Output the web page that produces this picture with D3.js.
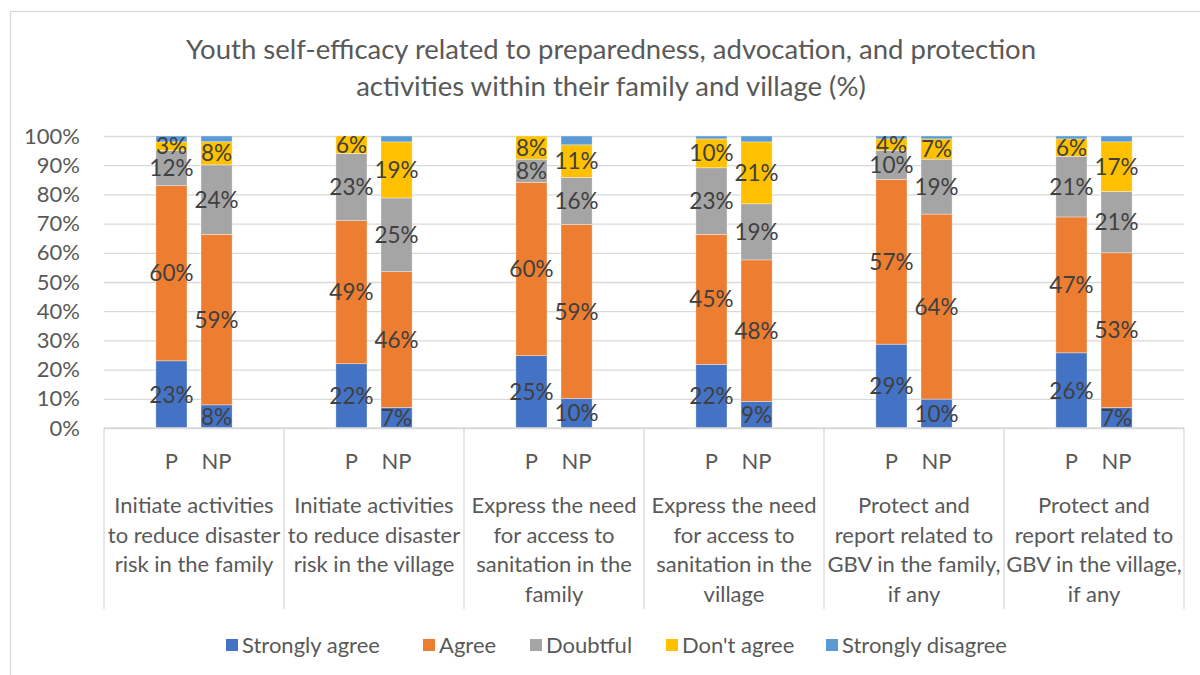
<!DOCTYPE html>
<html>
<head>
<meta charset="utf-8">
<script src="https://cdn.jsdelivr.net/npm/d3@7/dist/d3.min.js"></script>
<style>
  html, body { margin: 0; padding: 0; background: #fff; }
  svg { display: block; font-family: Lato, "Open Sans", sans-serif; }
</style>
</head>
<body>
<svg id="chart" width="1200" height="675"></svg>
<script>
// Activity categories (line breaks mark the wrapped axis label)
const categories = [
  "Initiate activities\nto reduce disaster\nrisk in the family",
  "Initiate activities\nto reduce disaster\nrisk in the village",
  "Express the need\nfor access to\nsanitation in the\nfamily",
  "Express the need\nfor access to\nsanitation in the\nvillage",
  "Protect and\nreport related to\nGBV in the family,\nif any",
  "Protect and\nreport related to\nGBV in the village,\nif any"
];
// Participant / non-participant columns inside every category
const groups = ["P", "NP"];

const seriesNames = ["Strongly agree", "Agree", "Doubtful", "Don't agree", "Strongly disagree"];
const seriesColors = ["#4472C4", "#ED7D31", "#A5A5A5", "#FFC000", "#5B9BD5"];

// Values in %, ordered cat1 P, cat1 NP, cat2 P, cat2 NP, ...
const stronglyAgree    = [23, 8, 22, 7, 25, 10, 22, 9, 29, 10, 26, 7];
const agree            = [60, 59, 49, 46, 60, 59, 45, 48, 57, 64, 47, 53];
const doubtful         = [12, 24, 23, 25, 8, 16, 23, 19, 10, 19, 21, 21];
const dontAgree        = [3, 8, 6, 19, 8, 11, 10, 21, 4, 7, 6, 17];
const stronglyDisagree = [2, 2, 0, 2, 0, 3, 1, 2, 1, 1, 1, 2];

const seriesValues = [stronglyAgree, agree, doubtful, dontAgree, stronglyDisagree];
// Series whose segments carry a value label
const labelledSeries = ["Strongly agree", "Agree", "Doubtful", "Don't agree"];

const yTicks = [0, 0.1, 0.2, 0.3, 0.4, 0.5, 0.6, 0.7, 0.8, 0.9, 1.0];

const titleLines = [
  "Youth self-efficacy related to preparedness, advocation, and protection",
  "activities within their family and village (%)"
];

// Flatten into one row per column
const rows = [];
categories.forEach((c, ci) => {
  groups.forEach((g, gi) => {
    const idx = ci * groups.length + gi;
    const row = { category: c, group: g };
    seriesNames.forEach((s, si) => { row[s] = seriesValues[si][idx]; });
    rows.push(row);
  });
});

const svg = d3.select("#chart");
const textColor = "#595959";
const gridColor = "#d9d9d9";

const plot = { left: 104, right: 1184, top: 136, bottom: 428 };

// Chart frame
svg.append("rect")
  .attr("x", 10.5).attr("y", 11.5)
  .attr("width", 1220).attr("height", 700)
  .attr("fill", "none").attr("stroke", gridColor).attr("stroke-width", 1.3);

// Title
svg.append("text")
  .attr("text-anchor", "middle")
  .attr("fill", textColor).attr("font-size", 27.5)
  .selectAll("tspan").data(titleLines).join("tspan")
  .attr("x", 611).attr("y", (d, i) => 59 + i * 37)
  .text(d => d);

const x = d3.scaleBand().domain(categories).range([plot.left, plot.right]).padding(0);
const xInner = d3.scaleBand().domain(groups).range([0, x.bandwidth()])
  .paddingInner(0.31).paddingOuter(1.15);
const y = d3.scaleLinear().domain([0, 1]).range([plot.bottom, plot.top]);

// Gridlines + y axis
const yAxis = d3.axisLeft(y).tickValues(yTicks).tickFormat(d3.format(".0%"))
  .tickSize(-(plot.right - plot.left)).tickPadding(24);
const gy = svg.append("g").attr("transform", `translate(${plot.left},0)`).call(yAxis);
gy.select(".domain").remove();
gy.selectAll(".tick line").attr("stroke", gridColor).attr("stroke-width", 1.3);
gy.selectAll(".tick text").attr("fill", textColor).attr("font-size", 22)
  .attr("font-family", "Lato, 'Open Sans', sans-serif");

// Stacked, normalised columns
const stack = d3.stack().keys(seriesNames).offset(d3.stackOffsetExpand);
const stacked = stack(rows);

const layers = svg.append("g").selectAll("g").data(stacked).join("g")
  .attr("fill", (d, i) => seriesColors[i]);

layers.selectAll("rect").data(d => d.map(p => ({ p, key: d.key }))).join("rect")
  .attr("x", d => x(d.p.data.category) + xInner(d.p.data.group))
  .attr("width", xInner.bandwidth())
  .attr("y", d => y(d.p[1]))
  .attr("height", d => Math.max(0, y(d.p[0]) - y(d.p[1])))
  .attr("stroke", "#ffffff").attr("stroke-opacity", 0.6).attr("stroke-width", 0.6);

// Value labels
const labelData = [];
stacked.forEach(layer => {
  if (!labelledSeries.includes(layer.key)) return;
  layer.forEach(p => {
    const v = p.data[layer.key];
    if (v > 0) labelData.push({ p, v });
  });
});
svg.append("g").selectAll("text").data(labelData).join("text")
  .attr("x", d => x(d.p.data.category) + xInner(d.p.data.group) + xInner.bandwidth() / 2)
  .attr("y", d => (y(d.p[0]) + y(d.p[1])) / 2)
  .attr("dy", "0.36em")
  .attr("text-anchor", "middle")
  .attr("fill", "#404040").attr("font-size", 22.5)
  .text(d => d.v + "%");

// Category axis: baseline and dividers
const axisG = svg.append("g").attr("stroke", gridColor).attr("stroke-width", 1.3);
axisG.append("line")
  .attr("x1", plot.left).attr("x2", plot.right)
  .attr("y1", plot.bottom).attr("y2", plot.bottom);
const edges = categories.map(c => x(c)).concat([plot.right]);
axisG.selectAll("line.div").data(edges).join("line").attr("class", "div")
  .attr("x1", d => d).attr("x2", d => d)
  .attr("y1", plot.bottom).attr("y2", 609);

// Group labels (P / NP)
const groupLabels = [];
categories.forEach(c => groups.forEach(g => groupLabels.push({ c, g })));
svg.append("g").selectAll("text").data(groupLabels).join("text")
  .attr("x", d => x(d.c) + xInner(d.g) + xInner.bandwidth() / 2)
  .attr("y", 469)
  .attr("text-anchor", "middle").attr("fill", textColor).attr("font-size", 22)
  .text(d => d.g);

// Category labels
svg.append("g").selectAll("text").data(categories).join("text")
  .attr("text-anchor", "middle").attr("fill", textColor).attr("font-size", 22)
  .each(function (c) {
    d3.select(this).selectAll("tspan").data(c.split("\n")).join("tspan")
      .attr("x", x(c) + x.bandwidth() / 2)
      .attr("y", (d, i) => 513 + i * 29.6)
      .text(d => d);
  });

// Legend
const legendItems = seriesNames.map((s, i) => ({ s, color: seriesColors[i] }));
const legendX = [226, 423, 530, 666, 826];
const legend = svg.append("g").selectAll("g").data(legendItems).join("g")
  .attr("transform", (d, i) => `translate(${legendX[i]},645)`);
legend.append("rect").attr("x", 0).attr("y", -6).attr("width", 12).attr("height", 12)
  .attr("fill", d => d.color);
legend.append("text").attr("x", 16).attr("dy", "0.36em")
  .attr("fill", textColor).attr("font-size", 22)
  .text(d => d.s);
</script>
</body>
</html>
